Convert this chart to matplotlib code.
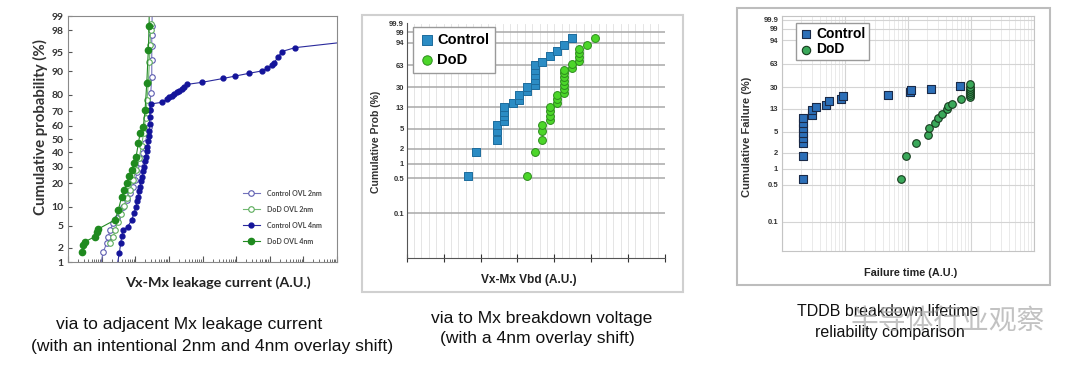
import numpy as np
import matplotlib
matplotlib.use('Agg')
import matplotlib.pyplot as plt
from matplotlib.ticker import LogLocator, NullFormatter, NullLocator, MultipleLocator
from matplotlib.patches import Rectangle
from statistics import NormalDist

plt.rcParams['font.family'] = ['Liberation Sans', 'DejaVu Sans']

# ---- panel 1: via to adjacent Mx leakage (x in A.U., y in %) ----
ctl2_x = [8.5, 11.2, 14.2, 15.8, 17.8, 22.3, 28.1, 35.3, 44.3, 55.9, 70, 84.3, 98.6, 116, 139,
          167, 196, 229, 258, 275, 289, 310, 310, 310, 310, 316, 320]
ctl2_y = [0.6, 1.66, 2.43, 3.24, 4.27, 5.55, 6.69, 8.0, 10.0, 12.4, 15.2, 18.4, 21.9, 26.8, 32.3,
          39.4, 46.8, 54.3, 59.2, 70.8, 80.6, 88.1, 93.2, 96.0, 97.5, 98.4, 99.6]

dod2_x = [17.8, 22.3, 25, 30.8, 37.8, 46.4, 57, 70, 86, 106, 130, 154, 177, 203, 224, 245, 263,
          275, 285, 295]
dod2_y = [2.43, 3.24, 4.27, 5.83, 7.8, 10.3, 13.2, 16.8, 21.9, 27.9, 36.0, 44.7, 54.5, 65.4, 76.9,
          85.9, 92.7, 96.2, 98.0, 98.5]

ctl4_x = [27, 33.6, 37, 39.6, 44.2, 59.8, 78.7, 92, 106, 113, 124, 130, 139, 149, 163, 171, 183,
          196, 205, 217, 229, 240, 249, 258, 267, 275, 281, 285,
          615, 865, 1014, 1220, 1429, 1717, 2013, 2420, 2834, 3410, 9530, 41900, 93300, 243800,
          582000, 820000, 1.15e6, 1.35e6, 1.81e6, 2.29e6, 5.7e6, 2e8]
ctl4_y = [0.6, 1.56, 2.43, 3.33, 4.27, 4.87, 6.29, 8.09, 10.0, 12.1, 13.8, 16.3, 18.4, 21.4, 23.8,
          27.3, 30.0, 33.9, 36.9, 41.0, 44.2, 48.5, 52.3, 56.0, 61.2, 66.1, 70.8, 74.6,
          75.6, 77.3, 78.4, 79.4, 80.3, 81.1, 82.0, 82.8, 83.7, 84.9, 85.8, 87.4, 88.3, 89.3,
          90.1, 90.9, 91.9, 92.6, 94.0, 95.1, 95.8, 96.7]

dod4_x = [2.56, 2.85, 3.21, 6.36, 7.15, 7.98, 25, 31.4, 39.6, 46.4, 55.9, 65.3, 78.7, 92, 106,
          124, 139, 174, 196, 220, 245, 258, 262]
dod4_y = [1.66, 2.25, 2.61, 3.24, 3.99, 4.45, 6.29, 8.98, 13.8, 16.8, 20.1, 24.2, 27.9, 32.5, 36.9,
          46.8, 54.3, 59.2, 70.8, 85.4, 95.4, 98.4, 99.6]

p1_ticks = [1, 2, 5, 10, 20, 30, 40, 50, 60, 70, 80, 90, 95, 98, 99]

# ---- panel 2: Vbd (A.U.) vs cumulative prob (%) ----
vbd_ctl_x = [1.67, 1.88, 2.46, 2.46, 2.46, 2.65, 2.65, 2.65, 2.65, 2.87, 3.05, 3.05, 3.26, 3.26,
             3.47, 3.47, 3.47, 3.47, 3.47, 3.67, 3.87, 4.08, 4.27, 4.48]
vbd_ctl_p = [0.57, 1.69, 2.97, 4.40, 5.97, 7.16, 8.68, 10.6, 12.9, 15.6, 18.0, 22.2, 25.3, 30.1,
             32.9, 39.6, 47.1, 55.3, 62.6, 68.5, 77.7, 85.9, 91.8, 96.8]
vbd_dod_x = [3.26, 3.47, 3.67, 3.67, 3.67, 3.87, 3.87, 3.87, 3.87, 4.08, 4.08, 4.08,
             4.27, 4.27, 4.27, 4.27, 4.27, 4.27, 4.27, 4.48, 4.48, 4.68, 4.68, 4.68, 4.68,
             4.89, 5.09]
vbd_dod_p = [0.56, 1.70, 3.0, 4.4, 6.0, 7.5, 8.96, 10.8, 12.9, 15.6, 18.5, 22.2,
             23.8, 28.2, 32.9, 38.2, 44.0, 49.8, 55.3, 58.2, 65.0, 69.5, 76.1, 82.2, 87.5,
             91.8, 96.9]

# ---- panel 3: TDDB failure time (A.U.) vs cumulative failure (%) ----
tddb_ctl_t = [2.15, 2.15, 2.15, 2.15, 2.15, 2.15, 2.15, 2.15, 2.99, 2.99, 3.39, 4.94, 5.57, 8.55,
              9.3, 48.2, 106, 113, 229, 679]
tddb_ctl_p = [0.645, 1.78, 3.05, 3.78, 4.69, 5.80, 7.17, 8.86, 10.2, 12.5, 13.9, 15.3, 17.5, 19.2,
              21.3, 22.7, 24.8, 26.7, 28.5, 31.0]
tddb_dod_t = [76.6, 91, 132, 208, 215, 265, 300, 339, 407, 432, 500, 704, 953,
              953, 953, 953, 953, 953, 953]
tddb_dod_p = [0.645, 1.78, 3.05, 4.36, 5.80, 7.36, 8.86, 10.6, 12.8, 14.3, 15.7, 19.2, 20.8,
              22.5, 24.5, 26.5, 28.5, 30.5, 34.1]

wb_ticks = [0.1, 0.5, 1, 2, 5, 13, 30, 63, 94, 99, 99.9]
wb_labels = ['0.1', '0.5', '1', '2', '5', '13', '30', '63', '94', '99', '99.9']

W, H = 1080, 368
fig = plt.figure(figsize=(10.8, 3.68), dpi=100)


def box(l, t, r, b):
    return [l / W, 1 - b / H, (r - l) / W, (b - t) / H]


_nd = NormalDist()


def _ppf1(p):
    if not np.isfinite(p):
        return np.nan
    return _nd.inv_cdf(min(max(p / 100.0, 1e-9), 1 - 1e-9))


def _cdf1(z):
    if not np.isfinite(z):
        return np.nan
    return 100.0 * _nd.cdf(z)


ppf = np.vectorize(_ppf1, otypes=[float])
cdf = np.vectorize(_cdf1, otypes=[float])


def wb(p):
    q = np.clip(np.asarray(p, float) / 100.0, 1e-12, 1 - 1e-12)
    return np.log(-np.log1p(-q))


def wb_inv(w):
    return 100.0 * (-np.expm1(-np.exp(w)))


# ================= panel 1 =================
ax1 = fig.add_axes(box(68, 16, 337, 262))
ax1.set_xscale('log')
ax1.set_yscale('function', functions=(ppf, cdf))
ax1.plot(ctl2_x, ctl2_y, '-o', color='#7272bb', lw=0.8, ms=4, mfc='white', mec='#5c5cb0', mew=0.8,
         label='Control OVL 2nm')
ax1.plot(dod2_x, dod2_y, '-o', color='#72b872', lw=0.8, ms=4, mfc='white', mec='#5aab5a', mew=0.8,
         label='DoD OVL 2nm')
ax1.plot(ctl4_x, ctl4_y, '-o', color='#2a2a9c', lw=0.8, ms=3.5, mfc='#14149a', mec='#14149a',
         label='Control OVL 4nm')
ax1.plot(dod4_x, dod4_y, '-o', color='#238a23', lw=0.8, ms=4.5, mfc='#1f8a1f', mec='#1f8a1f',
         label='DoD OVL 4nm')
ax1.set_xlim(1, 1e8)
ax1.set_ylim(1, 99)
ax1.set_yticks(p1_ticks)
ax1.set_yticklabels([str(t) for t in p1_ticks], fontfamily='Lato', fontweight='bold', fontsize=7.5,
                    color='#333333')
ax1.yaxis.set_minor_locator(NullLocator())
ax1.xaxis.set_major_locator(LogLocator(base=10, numticks=100))
ax1.xaxis.set_minor_locator(LogLocator(base=10, subs=np.arange(2, 10), numticks=100))
ax1.xaxis.set_major_formatter(NullFormatter())
ax1.xaxis.set_minor_formatter(NullFormatter())
ax1.tick_params(axis='x', which='major', direction='in', length=4, color='#555555')
ax1.tick_params(axis='x', which='minor', direction='in', length=2.5, color='#555555')
ax1.tick_params(axis='y', direction='in', length=3, color='#555555', pad=3)
for s in ax1.spines.values():
    s.set_color('#8a8a8a')
leg1 = ax1.legend(loc='upper left', bbox_to_anchor=(0.64, 0.305), frameon=False,
                  labelspacing=1.3, handlelength=2.4, handletextpad=1.0, borderaxespad=0,
                  prop={'family': 'Lato', 'weight': 'bold', 'size': 5})
for t in leg1.get_texts():
    t.set_color('#444444')
fig.text(40 / W, 1 - 127 / H, 'Cumulative probability (%)', rotation=90, ha='center', va='center',
         fontfamily='Lato', fontweight='bold', fontsize=10.8, color='#333333')
fig.text(218 / W, 1 - 283 / H, 'Vx-Mx leakage current (A.U.)', ha='center', va='center',
         fontfamily='Lato', fontweight='bold', fontsize=10.4, color='#222222')

# ================= panel 2 =================
ax2 = fig.add_axes(box(406.7, 23.5, 665, 258.3))
ax2.set_yscale('function', functions=(wb, wb_inv))
ax2.scatter(vbd_ctl_x, vbd_ctl_p, marker='s', s=30, c='#2b8cc4', edgecolors='#1d6c9c', linewidths=0.7,
            zorder=3, label='Control')
ax2.scatter(vbd_dod_x, vbd_dod_p, marker='o', s=32, c='#4cd62a', edgecolors='#2c8c1c', linewidths=0.7,
            zorder=3, label='DoD')
ax2.set_xlim(0, 7)
ax2.set_ylim(0.0121, 99.9)
ax2.set_yticks(wb_ticks)
ax2.set_yticklabels(wb_labels, fontweight='bold', fontsize=5.5, color='#333333')
ax2.yaxis.set_minor_locator(NullLocator())
ax2.xaxis.set_major_locator(MultipleLocator(1))
ax2.xaxis.set_minor_locator(MultipleLocator(0.2))
ax2.xaxis.set_major_formatter(NullFormatter())
ax2.grid(which='major', axis='y', color='#a8a8a8', lw=1.1)
ax2.grid(which='both', axis='x', color='#e0e0e0', lw=0.6)
ax2.set_axisbelow(True)
ax2.tick_params(axis='x', which='major', direction='inout', length=6, color='#333333')
ax2.tick_params(axis='x', which='minor', length=0)
ax2.tick_params(axis='y', length=0, pad=2)
ax2.spines['top'].set_visible(False)
ax2.spines['right'].set_visible(False)
ax2.spines['left'].set_color('#555555')
ax2.spines['bottom'].set_color('#555555')
ax2.legend(loc='upper left', bbox_to_anchor=(0.026, 0.986), borderaxespad=0, fancybox=False,
           edgecolor='#9a9a9a', framealpha=1, prop={'weight': 'bold', 'size': 10.5},
           handletextpad=0.25, handlelength=1.0, labelspacing=0.45, borderpad=0.4, markerscale=1.2)
fig.text(375.7 / W, 1 - 141.7 / H, 'Cumulative Prob (%)', rotation=90, ha='center', va='center',
         fontweight='bold', fontsize=7.6, color='#333333')
fig.text(529 / W, 1 - 280 / H, 'Vx-Mx Vbd (A.U.)', ha='center', va='center',
         fontweight='bold', fontsize=8.6, color='#222222')
fig.add_artist(Rectangle((362 / W, 1 - 292 / H), (683 - 362) / W, (292 - 15) / H,
                         transform=fig.transFigure, fill=False, edgecolor='#d0d0d0', lw=1.5))

# ================= panel 3 =================
ax3 = fig.add_axes(box(782.3, 16, 1034, 251))
ax3.set_xscale('log')
ax3.set_yscale('function', functions=(wb, wb_inv))
ax3.scatter(tddb_ctl_t, tddb_ctl_p, marker='s', s=30, c='#2c6fb8', edgecolors='#1a2a48', linewidths=0.8,
            zorder=3, label='Control')
ax3.scatter(tddb_dod_t, tddb_dod_p, marker='o', s=30, c='#3aa85a', edgecolors='#173a1e', linewidths=0.8,
            zorder=3, label='DoD')
ax3.set_xlim(1, 1e4)
ax3.set_ylim(0.0275, 99.97)
ax3.set_yticks(wb_ticks)
ax3.set_yticklabels(wb_labels, fontweight='bold', fontsize=5.5, color='#333333')
ax3.yaxis.set_minor_locator(NullLocator())
ax3.xaxis.set_major_locator(LogLocator(base=10, numticks=100))
ax3.xaxis.set_minor_locator(LogLocator(base=10, subs=np.arange(2, 10), numticks=100))
ax3.xaxis.set_major_formatter(NullFormatter())
ax3.xaxis.set_minor_formatter(NullFormatter())
ax3.grid(which='major', axis='both', color='#d4d4d4', lw=0.8)
ax3.grid(which='minor', axis='x', color='#e6e6e6', lw=0.6)
ax3.set_axisbelow(True)
ax3.tick_params(which='both', length=0, pad=3)
for s in ax3.spines.values():
    s.set_color('#c4c4c4')
ax3.legend(loc='upper left', bbox_to_anchor=(0.053, 0.969), borderaxespad=0, fancybox=False,
           edgecolor='#9a9a9a', framealpha=1, prop={'weight': 'bold', 'size': 10},
           handletextpad=0.25, handlelength=1.0, labelspacing=0.12, borderpad=0.25, markerscale=1.1)
fig.text(747.3 / W, 1 - 136.7 / H, 'Cumulative Failure (%)', rotation=90, ha='center', va='center',
         fontweight='bold', fontsize=8, color='#333333')
fig.text(911 / W, 1 - 273.3 / H, 'Failure time (A.U.)', ha='center', va='center',
         fontweight='bold', fontsize=7.8, color='#222222')
fig.add_artist(Rectangle((737 / W, 1 - 285 / H), (1050 - 737) / W, (285 - 8) / H,
                         transform=fig.transFigure, fill=False, edgecolor='#bdbdbd', lw=1.5))

# ================= captions =================
cap = dict(ha='center', va='center', fontsize=12.6, color='#111111')
fig.text(189 / W, 1 - 325 / H, 'via to adjacent Mx leakage current', **cap)
fig.text(212 / W, 1 - 346 / H, '(with an intentional 2nm and 4nm overlay shift)', **cap)
fig.text(542 / W, 1 - 318 / H, 'via to Mx breakdown voltage', **cap)
fig.text(537 / W, 1 - 339 / H, '(with a 4nm overlay shift)', **cap)
cap3 = dict(ha='center', va='center', fontsize=11.5, color='#111111')
fig.text(888 / W, 1 - 312 / H, 'TDDB breakdown lifetime', **cap3)
fig.text(890 / W, 1 - 333 / H, 'reliability comparison', **cap3)
fig.text(948 / W, 1 - 322 / H, '半导体行业观察', ha='center', va='center', fontsize=20,
         fontfamily=['Noto Sans CJK SC', 'DejaVu Sans'], color='#a8a8a8', alpha=0.7)

fig.savefig('out.png', dpi=100)
